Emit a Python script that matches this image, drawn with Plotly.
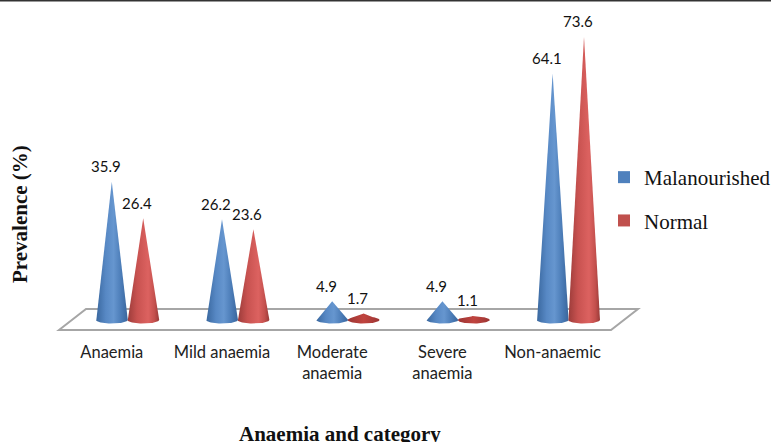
import numpy as np
import plotly.graph_objects as go

categories = ["Anaemia", "Mild anaemia", "Moderate<br>anaemia", "Severe<br>anaemia", "Non-anaemic"]
malanourished = [35.9, 26.2, 4.9, 4.9, 64.1]
normal = [26.4, 23.6, 1.7, 1.1, 73.6]
series_names = ["Malanourished", "Normal"]

W, H = 771, 442
PLOT_BOTTOM = 336
PX_PER_CAT = 110.2
PX_PER_VAL = 3.85
CAT0_PX = 127.5
ZERO_PX = 320
OFFSET = 15.7 / PX_PER_CAT
HALF_W = 16 / PX_PER_CAT
RY = 3.5 / PX_PER_VAL

BLUE = "#4f81bd"
RED = "#c0504d"
blue_scale = [[0, "#3a689f"], [0.3, "#5788c4"], [0.55, "#6696cf"], [0.8, "#4a7bb6"], [1, "#3a669c"]]
red_scale = [[0, "#9c3c3a"], [0.3, "#c85250"], [0.65, "#dc6260"], [0.85, "#c4504d"], [1, "#983a38"]]
flat_red_scale = [[0, "#9c3533"], [0.5, "#c0443f"], [1, "#9c3533"]]

fig = go.Figure()


def add_cone(cx, v, scale, name):
    th = np.linspace(np.pi, 2 * np.pi, 40)
    xs = cx + HALF_W * np.cos(th)
    ys = RY * np.sin(th)
    xp = np.concatenate([[cx], xs, [cx]])
    yp = np.concatenate([[v], ys, [v]])
    if v < RY * 2.5:
        # a flat cone shows the top half of its base ellipse with a small peak
        th2 = np.linspace(0, np.pi, 41)
        xt = cx + HALF_W * np.cos(th2)
        yt = np.maximum(RY * np.sin(th2), v * (1 - np.abs(xt - cx) / HALF_W))
        xp = np.concatenate([xt, xs])
        yp = np.concatenate([yt, ys])
    fig.add_trace(go.Scatter(
        x=xp, y=yp, mode="lines", fill="toself", line=dict(width=0),
        fillgradient=dict(type="horizontal", colorscale=scale),
        showlegend=False, hoverinfo="skip", name=name,
    ))


for i in range(len(categories)):
    add_cone(i - OFFSET, malanourished[i], blue_scale, series_names[0])
    nv = normal[i]
    add_cone(i + OFFSET, nv, flat_red_scale if nv < RY * 2.5 else red_scale, series_names[1])

for name, color in zip(series_names, [BLUE, RED]):
    fig.add_trace(go.Scatter(
        x=[None], y=[None], mode="markers", name=name, legendgroup=name,
        marker=dict(symbol="square", size=12, color=color),
    ))

annotations = []
for i in range(len(categories)):
    for x, v in [(i - OFFSET, malanourished[i]), (i + OFFSET, normal[i])]:
        annotations.append(dict(
            x=x, y=v, text=f"{v:.1f}", showarrow=False, xshift=-6, yshift=15.5,
            yanchor="middle", font=dict(family="Lato", size=15, color="#111"),
        ))
serif = "Liberation Serif"
annotations.append(dict(
    xref="paper", yref="paper", x=20 / W, y=1 - 214 / PLOT_BOTTOM, text="<b>Prevalence (%)</b>",
    textangle=-90, showarrow=False, xanchor="center", yanchor="middle",
    font=dict(family=serif, size=21, color="#111"),
))
annotations.append(dict(
    xref="paper", yref="paper", x=340 / W, y=1 - 434 / PLOT_BOTTOM, text="<b>Anaemia and category</b>",
    showarrow=False, xanchor="center", yanchor="middle",
    font=dict(family=serif, size=21, color="#111"),
))


def px_x(p):
    return (p - CAT0_PX) / PX_PER_CAT


def px_y(p):
    return (ZERO_PX - p) / PX_PER_VAL


platform_x = [px_x(59), px_x(86), px_x(638), px_x(611)]
platform_y = [px_y(330), px_y(309), px_y(309), px_y(330)]
path = "M" + " L".join(f"{a:.4f},{b:.4f}" for a, b in zip(platform_x, platform_y)) + " Z"

fig.update_layout(
    width=W, height=H, margin=dict(l=0, r=0, t=0, b=H - PLOT_BOTTOM, autoexpand=False),
    paper_bgcolor="white", plot_bgcolor="white",
    xaxis=dict(
        range=[px_x(0), px_x(W)], tickvals=[i - OFFSET for i in range(len(categories))], ticktext=categories,
        showgrid=False, zeroline=False, showline=False, ticks="", fixedrange=True, ticklabelstandoff=4,
        tickfont=dict(family="Lato", size=16.5, color="#222"), tickangle=0,
    ),
    yaxis=dict(
        range=[px_y(PLOT_BOTTOM), px_y(0)], visible=False, fixedrange=True,
    ),
    legend=dict(
        x=604 / W, y=1 - 157 / PLOT_BOTTOM, xanchor="left", yanchor="top",
        font=dict(family=serif, size=21, color="#111"), tracegroupgap=13,
        bgcolor="rgba(0,0,0,0)", itemclick=False, itemdoubleclick=False,
    ),
    annotations=annotations,
    shapes=[
        dict(type="path", path=path, xref="x", yref="y", line=dict(color="#a6a6a6", width=2),
             fillcolor="white", layer="below"),
        dict(type="line", xref="paper", yref="paper", x0=0, x1=1, y0=0.9985, y1=0.9985,
             line=dict(color="#333333", width=2)),
    ],
)

fig.write_html("out.html", config={"displayModeBar": False},
               post_script='document.body.style.margin="0";document.documentElement.style.overflow="hidden";')
